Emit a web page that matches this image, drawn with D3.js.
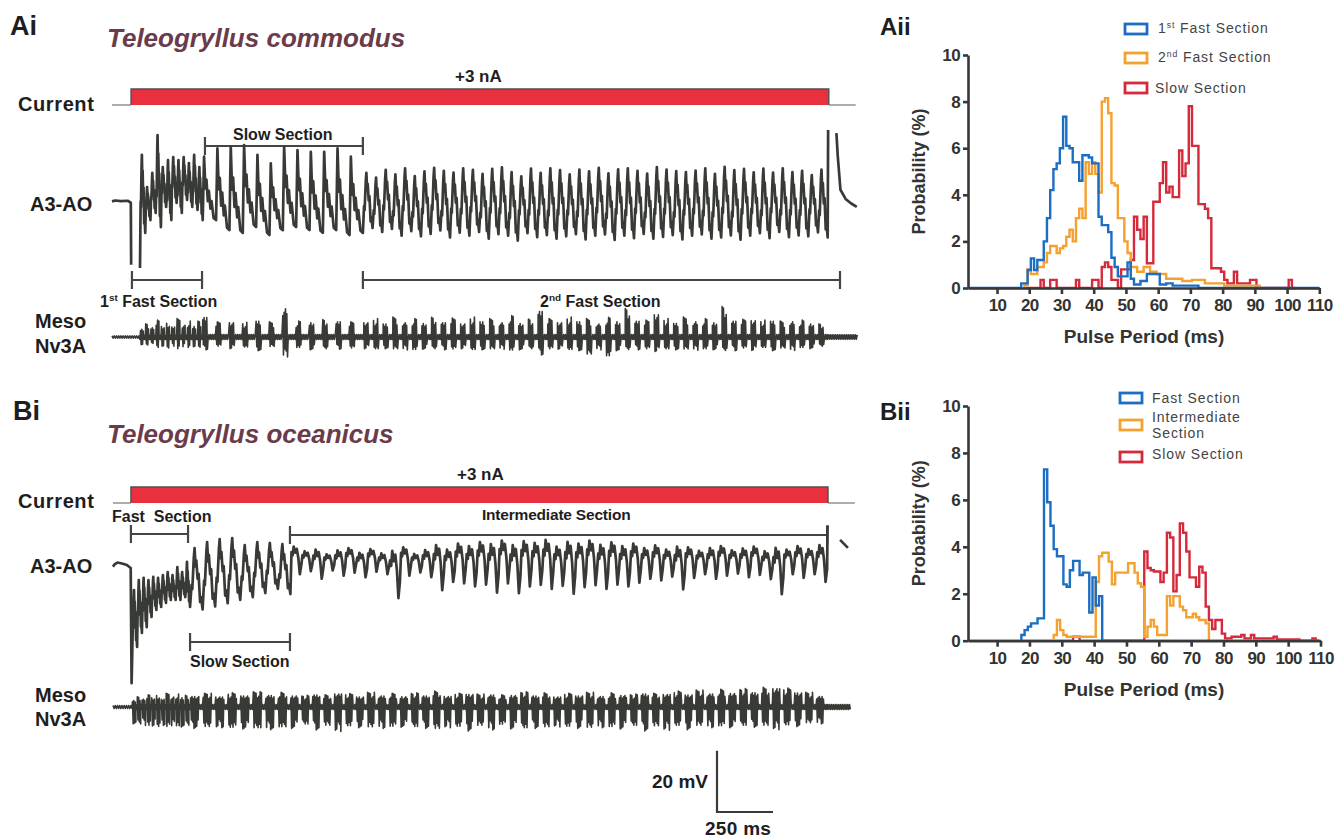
<!DOCTYPE html>
<html><head><meta charset="utf-8">
<script src="https://cdn.jsdelivr.net/npm/d3@7"></script>
<style>
body{margin:0;background:#fff;}
svg text{font-family:"Liberation Sans",Arial,Helvetica,sans-serif;}
</style></head><body>
<svg id="chart" width="1343" height="840"></svg>
<script>
// ================= DATA =================
// --- Histograms (probability %, 1 ms bins, value for bin centred on start+i) ---
const aiiFast1Start = 18;
const aiiFast1 = [0.2,0.2,0.77,1.27,0.77,1.2,1.2,2.0,3.0,4.2,5.1,5.35,6.0,7.35,6.1,6.0,5.4,5.4,4.6,5.7,5.7,5.6,5.35,5.35,3.06,2.7,2.7,2.4,1.3,0.9,0.5,0.5,0.5,1.1,0.4,0.15,0.15,0.3,0.3,0.6,0.6,0.6,0.6,0.15,0.15,0.2,0.2,0.1,0.1,0.1,0.1,0.1,0.1,0.1,0.1];
const aiiFast2Start = 19;
const aiiFast2 = [0.13,0.8,0.6,0.6,0.9,0.9,1.1,1.5,1.8,1.8,1.5,1.7,1.8,2.2,2.5,2.0,3.0,3.4,3.0,5.4,4.9,5.4,4.9,4.1,8.0,8.15,7.5,4.5,4.4,3.0,3.0,2.0,1.5,0.9,0.9,0.7,0.7,0.9,0.9,0.7,0.7,0.6,0.6,0.6,0.4,0.4,0.4,0.4,0.4,0.3,0.3,0.3,0.35,0.35,0.35,0.35,0.2,0.2,0.2,0.2,0.2,0.2,0.1,0.1,0.1,0.1,0.1,0.1,0.1,0.1,0.1,0.1,0.1];
const aiiSlowStart = 19;
const aiiSlow = [0,0,0,0,0,0.35,0,0,0.35,0.35,0,0,0,0,0,0,0.35,0,0,0,0,0.35,0.35,0,0.9,1.1,0.9,0.35,0.35,0,0.8,0.8,0.8,1.2,3.06,2.5,2.1,3.06,1.06,1.06,3.7,3.7,4.5,5.4,4.1,4.35,3.9,3.9,5.9,4.8,5.35,7.8,6.1,6.1,3.6,3.6,3.4,3.0,0.85,0.85,0.85,0.7,0.35,0.2,0.2,0.7,0.2,0.2,0.2,0.2,0.35,0.35,0,0,0,0,0,0,0,0,0,0,0.35,0];
const biiFastStart = 18;
const biiFast = [0.24,0.45,0.6,0.74,0.74,0.95,0.95,7.3,5.9,4.9,3.9,3.6,3.6,2.4,2.3,3.0,3.4,3.4,2.8,2.9,2.9,1.2,2.7,1.5,1.9];
const biiInterStart = 28;
const biiInter = [0.24,0.88,0.45,0.24,0.17,0.17,0.17,0.17,0.17,0.17,0.17,0.17,0.17,2.5,3.6,3.75,3.75,3.37,2.4,2.9,2.9,2.9,2.9,3.3,3.3,2.9,2.45,2.3,0.17,0.6,0.88,0.6,0.24,0.24,0.24,1.9,1.5,1.9,1.9,1.45,1.3,1.0,1.0,1.15,1.0,0.88,0.88,0.74];
const biiSlowStart = 18;
const biiSlow = [0,0,0,0,0,0,0,0,0,0,0,0,0,0,0,0,0.17,0.17,0,0,0,0,0,0,0,0,0,0,0,0,0,0,0,0,0,0,0,0,3.8,3.1,3.0,2.95,2.95,2.5,2.9,4.6,4.4,2.1,2.8,5.0,4.6,3.8,2.7,2.7,2.3,3.15,2.9,1.45,0.88,0.5,0.88,0.88,0.3,0.1,0.1,0.17,0.17,0.17,0.24,0.1,0.1,0.24,0.1,0.1,0.1,0.1,0.1,0.1,0.17,0.05,0.05,0.05,0.05,0.05,0.05,0.05,0,0,0,0,0.1,0];
const xTicks = [10,20,30,40,50,60,70,80,90,100,110];
const yTicks = [0,2,4,6,8,10];

// --- Ai (T. commodus) recordings: time ms, voltage mV ---
const aiCurrentTimes = [0, 85, 3200, 3320];
const biCurrentTimes = [0, 80, 3192, 3312];
const currentAmp = 3;
const aiPreTrace = [[0,0.2],[15,0.5],[40,0.3],[70,0.4],[84,-0.2],[85.5,-20.5],[86,null],[125,-21.6]];
const aiSectionTimes = [125, 405, 1120, 3195];
const aiFast1Peaks = [15.4,4.9,9.5,21.9,11.4,13.7,14.7,13.7,14.7,12.7,15.4,11.4];
const aiFast1Troughs = [-10.1,-5.9,-3.6,-8.2,-1.6,-5.9,-0.3,-3.6,0.7,-1.6,-2.6,-5.9];
const aiSlowPeaks = [14.8,17.5,18.1,18.6,15.4,12.6,18.1,17.0,16.4,16.4,17.5,14.8];
const aiSlowTroughs = [-5.9,-9.2,-10.1,-8.2,-10.8,-9.2,-8.2,-9.2,-10.1,-9.2,-10.8,-10.1];
const aiFast2Peaks = [9.5,8.0,10.5,9.0,11.0,8.5,10.0,11.2,10.2,9.6,11.0,10.5,9.2,10.8,11.3,9.8,8.4,10.9,9.5,11.0,10.4,9.0,10.6,10.0,11.2,9.4,10.7,11.0,10.2,9.3,11.4,10.6,10.1,9.8,10.3,11.0,9.2,11.5,10.4,10.8,9.7,10.9,9.6,11.0,9.8,10.2,8.8,10.6];
const aiFast2Troughs = [-8.5,-9.8,-8.8,-11.0,-9.5,-11.2,-10.4,-9.3,-11.6,-10.0,-11.0,-9.8,-12.0,-10.5,-11.0,-12.6,-10.2,-11.5,-10.8,-12.0,-11.2,-10.5,-12.2,-11.0,-10.6,-12.4,-11.0,-11.8,-10.4,-12.0,-11.4,-10.8,-12.2,-11.0,-10.6,-12.0,-11.6,-10.9,-12.3,-11.0,-10.2,-11.8,-9.8,-11.5,-10.9,-11.2,-9.9,-11.6];
const aiPostTrace = [[3197,23.5],[3198,null],[3234,22.5],[3240,15],[3252,4],[3275,1],[3300,-0.5],[3325,-1.6]];
const aiMesoUp = [3.0,4.5,3.5,5.5,4.0,5.0,3.8,6.0,4.5,5.2,4.0,5.5,
  7.5,5.0,5.5,4.8,6.0,5.0,10.8,5.2,5.5,6.0,5.8,5.0,
  5.5,6.0,5.0,6.5,5.5,6.0,5.2,6.8,5.5,6.2,5.0,6.5,5.8,6.0,5.5,7.0,5.2,6.2,9.8,6.0,5.5,6.5,5.8,6.0,5.0,6.4,5.8,9.8,6.0,5.5,8.5,6.0,5.2,6.5,5.8,6.0,5.5,10.5,6.0,5.8,6.2,5.5,6.0,5.2,5.8,5.5,5.0,4.5];
const aiMesoDown = [2.5,3.5,3.0,4.0,3.2,4.2,3.0,4.5,3.5,4.0,3.2,4.5,
  4.2,3.5,4.0,3.8,4.5,3.6,6.5,4.0,4.2,4.5,4.0,4.2,
  4.0,4.5,3.8,4.5,4.2,4.8,4.0,4.5,4.2,4.6,4.0,4.8,4.2,4.5,4.0,5.0,4.2,4.5,5.9,4.5,4.2,4.8,4.5,6.5,4.2,7.2,4.5,4.8,4.2,4.5,5.0,4.5,4.2,4.6,4.3,4.5,4.2,5.2,4.5,4.2,4.6,4.0,4.5,4.2,4.4,4.0,3.8,3.5];
const aiMesoEnd = 3330;

// --- Bi (T. oceanicus) recordings ---
const biPreTrace = [[0,-0.6],[8,0.3],[20,0.8],[40,0.5],[62,0],[79,-1.0],[83,-38.6]];
const biSectionTimes = [86, 344, 792, 3188];
const biFastPeaks = [-8.2,-4.9,-4.2,-4.9,-3.9,-4.2,-3.3,-2.3,-3.3,-0.7,-2.3,1.0];
const biFastTroughs = [-26.8,-22.2,-20.3,-17.0,-14.7,-13.7,-12.4,-11.4,-11.4,-11.4,-10.5,-13.7];
const biSlowPeaks = [5.5,7.5,8.5,8.8,6.5,7.5,7.2,6.8];
const biSlowTroughs = [-14.5,-13.5,-12.5,-11.4,-10.5,-9.2,-7.8,-9.5];
const biIntPeaks = [6.0,4.5,5.0,3.5,4.8,5.5,4.0,5.2,3.8,4.6,5.8,3.6,4.9,6.5,5.0,7.0,6.2,7.5,6.8,8.0,6.5,7.8,7.2,8.2,6.0,7.6,7.0,8.0,6.6,7.4,6.2,7.0,5.5,6.4,5.0,6.0,5.8,4.6,5.5,6.2,4.8,5.4,6.0,4.5,5.6,5.0,6.2,5.2,6.5];
const biIntTroughs = [-3.0,-2.0,-4.5,-1.8,-3.5,-2.5,-4.0,-2.2,-3.0,-10.8,-3.5,-2.4,-4.0,-8.2,-5.5,-6.0,-7.0,-6.4,-9.0,-6.0,-9.2,-7.0,-6.5,-7.8,-6.8,-9.4,-7.2,-6.6,-7.8,-6.4,-7.0,-5.8,-4.5,-5.0,-3.8,-8.0,-4.2,-3.0,-4.5,-3.5,-2.8,-4.0,-3.2,-4.6,-9.5,-3.0,-4.2,-3.0,-5.5];
const biPostTrace = [[3190,13],[3191,null],[3246,8.2],[3281,5.6]];
const biMesoUp = [2.5,3.5,3.0,4.0,3.5,4.2,3.0,4.5,3.8,4.2,3.5,4.0,
  4.0,4.5,3.8,4.6,4.2,5.0,4.4,4.8,
  4.2,3.8,4.6,4.0,5.0,4.4,3.8,4.8,4.2,4.5,3.9,4.6,4.2,5.2,4.0,4.5,4.8,4.2,4.6,4.0,4.4,5.0,4.2,4.6,3.8,4.5,4.2,4.8,4.0,4.6,4.4,4.2,5.0,4.5,4.8,5.2,4.6,5.5,5.0,5.8,5.2,6.0,5.5,6.4,7.0,6.2,5.4,4.8,4.0];
const biMesoDown = [5.5,6.5,6.0,7.0,6.5,7.5,6.0,7.5,6.8,7.2,6.5,7.0,
  7.0,7.5,6.8,7.8,7.2,8.0,7.4,7.6,
  7.0,6.5,7.5,7.0,8.0,7.2,6.8,7.6,7.0,7.4,6.6,7.5,7.0,8.2,6.8,7.4,7.8,7.0,7.5,6.6,7.2,8.0,7.0,7.6,6.5,7.4,7.0,7.8,6.8,7.5,7.2,7.0,7.8,7.2,7.6,7.0,7.4,7.0,6.8,7.2,6.8,7.0,6.6,7.0,7.4,6.8,6.4,6.0,5.5];
const biMesoEnd = 3295;

// --- section brackets (ms) ---
const aiBracketFast1 = [89, 402];
const aiBracketSlow = [415, 1120];
const aiBracketFast2 = [1120, 3250];
const biBracketFast = [80, 335];
const biBracketSlow = [344, 790];
const biBracketInter = [790, 3188];
const scaleBarMv = 20, scaleBarMs = 250;

// ================= DRAWING =================
const svg = d3.select('#chart');
const INK = '#1e1e1e', TRACE = '#383b35', AX = '#383838';
const BLUE = '#1b6ec2', ORANGE = '#f5a12f', RED = '#d42a3b', BAR = '#e8303f';
const pxMs = 0.224, pxMv = 3.06;

function text(x, y, s, o = {}) {
  const t = svg.append('text').attr('x', x).attr('y', y)
    .attr('font-size', o.size || 16).attr('font-weight', o.weight || 'bold')
    .attr('fill', o.fill || INK).attr('text-anchor', o.anchor || 'start');
  if (o.italic) t.attr('font-style', 'italic');
  if (o.ls) t.attr('letter-spacing', o.ls);
  if (o.rotate) t.attr('transform', `rotate(${o.rotate},${x},${y})`);
  t.style('white-space', 'pre');
  t.text(s);
  return t;
}
function textSup(x, y, a, sup, b, o = {}) {
  const sz = o.size || 16;
  const t = svg.append('text').attr('x', x).attr('y', y)
    .attr('font-size', sz).attr('font-weight', o.weight || 'bold')
    .attr('fill', o.fill || INK).style('white-space','pre');
  if (o.ls) t.attr('letter-spacing', o.ls);
  t.append('tspan').text(a);
  t.append('tspan').attr('dy', -sz * 0.38).attr('font-size', sz * 0.62).text(sup);
  t.append('tspan').attr('dy', sz * 0.38).text(b);
}

// scales
const aiT = d3.scaleLinear().domain([0, 1000]).range([112, 112 + 1000 * pxMs]);
const aiV = d3.scaleLinear().domain([0, 10]).range([202, 202 - 10 * pxMv]);
const aiMV = d3.scaleLinear().domain([0, 10]).range([337, 337 - 10 * pxMv]);
const aiI = d3.scaleLinear().domain([0, 3]).range([105, 89]);
const biT = d3.scaleLinear().domain([0, 1000]).range([113, 113 + 1000 * pxMs]);
const biV = d3.scaleLinear().domain([0, 10]).range([565, 565 - 10 * pxMv]);
const biMV = d3.scaleLinear().domain([0, 10]).range([707, 707 - 10 * pxMv]);
const biI = d3.scaleLinear().domain([0, 3]).range([503, 487]);

// waveform templates (time fraction, level fraction between trough and peak)
const fastShape = [[0.12,0.4],[0.18,0.33],[0.3,0.85],[0.36,1],[0.44,0.7],[0.5,0.8],[0.6,0.5],[0.68,0.58],[0.8,0.12],[0.88,0.2],[1,0]];
const slowShape = [[0.1,1],[0.2,0.5],[0.28,0.64],[0.38,0.3],[0.46,0.46],[0.58,0.18],[0.66,0.3],[0.82,0.03],[1,0]];
const interShape = [[0.1,0.8],[0.2,0.68],[0.3,1],[0.45,0.78],[0.58,0.92],[0.72,0.6],[0.86,0],[1,0.35]];

function buildTrace(pre, sections, post) {
  let pts = pre.slice(); const cycles = [];
  sections.forEach(s => {
    const n = Math.min(s.peaks.length, s.troughs.length);
    const d = (s.t1 - s.t0) / n;
    for (let i = 0; i < n; i++) {
      const c0 = s.t0 + i * d, P = s.peaks[i], T = s.troughs[i];
      cycles.push({ t0: c0, d, burst: s.burst });
      s.shape.forEach(([f, l]) => pts.push([c0 + f * d, T + l * (P - T)]));
    }
  });
  return { pts: pts.concat(post), cycles };
}
function buildMeso(cycles, up, dn, tEnd, quiet, tail) {
  const pts = []; const tmpl = [0.7,1.0,0.85,0.95,0.65,0.9,0.75,0.6,0.85,0.7];
  let k = 0;
  for (let t = 0; t < cycles[0].t0; t += 5, k++) pts.push([t, (k % 2 ? -1 : 1) * quiet]);
  cycles.forEach((c, i) => {
    const b0 = c.t0 + c.burst[0] * c.d, b1 = c.t0 + c.burst[1] * c.d;
    for (let t = c.t0; t < b0; t += 4, k++) pts.push([t, (k % 2 ? -1 : 1) * 0.8]);
    let j = 0;
    for (let t = b0; t < b1; t += 3, j++) {
      const a = tmpl[(j + i * 3) % tmpl.length];
      pts.push([t, j % 2 === 0 ? (up[i] || 4) * a : -(dn[i] || 4) * a]);
    }
    for (let t = b1; t < c.t0 + c.d; t += 4, k++) pts.push([t, (k % 2 ? -1 : 1) * 0.8]);
  });
  const last = cycles[cycles.length - 1];
  for (let t = last.t0 + last.d; t <= tEnd; t += 4, k++) pts.push([t, (k % 2 ? -1 : 1) * tail]);
  return pts;
}
function drawLine(pts, T, V, w) {
  svg.append('path').attr('fill', 'none').attr('stroke', TRACE).attr('stroke-width', w)
    .attr('stroke-linejoin', 'round')
    .attr('d', d3.line().defined(d => d[1] !== null).x(d => T(d[0])).y(d => V(d[1]))(pts));
}
function drawCurrent(times, T, I) {
  const [t0, on, off, end] = times;
  svg.append('line').attr('x1', T(t0)).attr('x2', T(on)).attr('y1', I(0)).attr('y2', I(0)).attr('stroke', '#777').attr('stroke-width', 1.2);
  svg.append('line').attr('x1', T(off)).attr('x2', T(end)).attr('y1', I(0)).attr('y2', I(0)).attr('stroke', '#777').attr('stroke-width', 1.2);
  svg.append('rect').attr('x', T(on)).attr('y', I(currentAmp)).attr('width', T(off) - T(on)).attr('height', I(0) - I(currentAmp)).attr('fill', BAR);
  svg.append('path').attr('fill', 'none').attr('stroke', '#505050').attr('stroke-width', 1.4)
    .attr('d', `M${T(on)},${I(0)}V${I(currentAmp)}H${T(off)}V${I(0)}`);
}
function drawBracket(r, T, y) {
  svg.append('path').attr('fill', 'none').attr('stroke', '#454545').attr('stroke-width', 2.2)
    .attr('d', `M${T(r[0])},${y - 9}V${y + 9}M${T(r[0])},${y}H${T(r[1])}M${T(r[1])},${y - 9}V${y + 9}`);
}

// ---------- Ai ----------
text(10, 35, 'Ai', { size: 27 });
text(107, 47, 'Teleogryllus commodus', { size: 26, italic: true, fill: '#6b3b4c' });
text(18, 111, 'Current', { size: 20, ls: 0.6 });
text(455, 82, '+3 nA', { size: 17 });
drawCurrent(aiCurrentTimes, aiT, aiI);
text(233, 140, 'Slow Section', { size: 16 });
drawBracket(aiBracketSlow, aiT, 146);
text(30, 211, 'A3-AO', { size: 20 });
const aiTrace = buildTrace(aiPreTrace, [
  { t0: aiSectionTimes[0], t1: aiSectionTimes[1], peaks: aiFast1Peaks, troughs: aiFast1Troughs, shape: fastShape, burst: [0.1, 0.65] },
  { t0: aiSectionTimes[1], t1: aiSectionTimes[2], peaks: aiSlowPeaks, troughs: aiSlowTroughs, shape: slowShape, burst: [0.0, 0.4] },
  { t0: aiSectionTimes[2], t1: aiSectionTimes[3], peaks: aiFast2Peaks, troughs: aiFast2Troughs, shape: fastShape, burst: [0.1, 0.65] }
], aiPostTrace);
drawLine(aiTrace.pts, aiT, aiV, 2.7);
drawBracket(aiBracketFast1, aiT, 280);
drawBracket(aiBracketFast2, aiT, 280);
textSup(100, 307, '1', 'st', ' Fast Section', { size: 16 });
textSup(540, 307, '2', 'nd', ' Fast Section', { size: 16 });
text(35, 328, 'Meso', { size: 20 });
text(35, 353, 'Nv3A', { size: 20 });
drawLine(buildMeso(aiTrace.cycles, aiMesoUp, aiMesoDown, aiMesoEnd, 0.35, 0.7), aiT, aiMV, 1.6);

// ---------- Bi ----------
text(13, 420, 'Bi', { size: 27 });
text(107, 443, 'Teleogryllus oceanicus', { size: 26, italic: true, fill: '#6b3b4c' });
text(18, 508, 'Current', { size: 20, ls: 0.6 });
text(457, 480, '+3 nA', { size: 17 });
drawCurrent(biCurrentTimes, biT, biI);
text(112, 522, 'Fast  Section', { size: 16 });
drawBracket(biBracketFast, biT, 534);
text(482, 520, 'Intermediate Section', { size: 15.5, ls: -0.2 });
drawBracket(biBracketInter, biT, 535);
text(30, 573, 'A3-AO', { size: 20 });
const biTrace = buildTrace(biPreTrace, [
  { t0: biSectionTimes[0], t1: biSectionTimes[1], peaks: biFastPeaks, troughs: biFastTroughs, shape: fastShape, burst: [0.05, 0.75] },
  { t0: biSectionTimes[1], t1: biSectionTimes[2], peaks: biSlowPeaks, troughs: biSlowTroughs, shape: fastShape, burst: [0.05, 0.7] },
  { t0: biSectionTimes[2], t1: biSectionTimes[3], peaks: biIntPeaks, troughs: biIntTroughs, shape: interShape, burst: [0.05, 0.72] }
], biPostTrace);
drawLine(biTrace.pts, biT, biV, 2.7);
drawBracket(biBracketSlow, biT, 642);
text(190, 667, 'Slow Section', { size: 16 });
text(35, 702, 'Meso', { size: 20 });
text(35, 726, 'Nv3A', { size: 20 });
drawLine(buildMeso(biTrace.cycles, biMesoUp, biMesoDown, biMesoEnd, 0.5, 0.8), biT, biMV, 1.6);

// scale bar
const sbX = 717, sbY = 812;
svg.append('path').attr('fill', 'none').attr('stroke', '#3a3a3a').attr('stroke-width', 2.2)
  .attr('d', `M${sbX},${sbY - (biV(0) - biV(scaleBarMv))}V${sbY}H${sbX + (biT(scaleBarMs) - biT(0))}`);
text(708, 788, '20 mV', { size: 19, anchor: 'end' });
text(705, 835, '250 ms', { size: 19, ls: 0.3 });

// ---------- histograms ----------
function histogram(cfg) {
  const x = d3.scaleLinear().domain([1, 110]).range(cfg.xr);
  const y = d3.scaleLinear().domain([0, 10]).range(cfg.yr);
  const g = svg.append('g');
  const line = d3.line().x(d => x(d[0])).y(d => y(d[1])).curve(d3.curveStepAfter);
  cfg.series.forEach(s => {
    const pts = [];
    if (s.full) pts.push([1, 0]);
    pts.push([s.start - 0.5, 0]);
    s.vals.forEach((v, i) => pts.push([s.start - 0.5 + i, v]));
    pts.push([s.start - 0.5 + s.vals.length, 0]);
    if (s.full) pts.push([110, 0]);
    g.append('path').attr('d', line(pts)).attr('fill', 'none').attr('stroke', s.color)
      .attr('stroke-width', 2.4).attr('stroke-linejoin', 'miter');
  });
  const xa = g.append('g').attr('transform', `translate(0,${cfg.yr[0]})`)
    .call(d3.axisBottom(x).tickValues(xTicks).tickSize(6).tickSizeOuter(0).tickPadding(5));
  const ya = g.append('g').attr('transform', `translate(${cfg.xr[0]},0)`)
    .call(d3.axisLeft(y).tickValues(yTicks).tickSize(5).tickSizeOuter(0).tickPadding(3));
  [xa, ya].forEach(a => {
    a.selectAll('path,line').attr('stroke', AX).attr('stroke-width', 2.6);
    a.selectAll('text').attr('font-size', 17).attr('font-weight', 'bold').attr('fill', '#333')
      .attr('font-family', '"Liberation Sans",Arial,sans-serif').attr('letter-spacing', -0.6);
  });
  text(cfg.xr[0] - 43, (cfg.yr[0] + cfg.yr[1]) / 2, 'Probability (%)', { size: 18, anchor: 'middle', rotate: -90, fill: '#333' });
  text(1144, cfg.yr[0] + 55, 'Pulse Period (ms)', { size: 19, anchor: 'middle', fill: '#333' });
  cfg.legend.forEach(l => {
    svg.append('rect').attr('x', l.bx).attr('y', l.by).attr('width', 22).attr('height', 10)
      .attr('fill', '#fff').attr('stroke', l.color).attr('stroke-width', 2.8);
    l.lines.forEach((ln, i) => {
      if (ln.sup) textSup(l.tx, l.ty + i * 16, ln.a, ln.sup, ln.b, { size: 14, weight: 'normal', fill: '#444', ls: 0.9 });
      else text(l.tx, l.ty + i * 16, ln.a, { size: 14, weight: 'normal', fill: '#444', ls: 0.9 });
    });
  });
}
text(880, 35, 'Aii', { size: 24 });
histogram({
  xr: [968, 1319.3], yr: [288, 55],
  series: [
    { start: aiiSlowStart, vals: aiiSlow, color: RED },
    { start: aiiFast2Start, vals: aiiFast2, color: ORANGE },
    { start: aiiFast1Start, vals: aiiFast1, color: BLUE, full: true }
  ],
  legend: [
    { bx: 1125, by: 24, color: BLUE, tx: 1158, ty: 33, lines: [{ a: '1', sup: 'st', b: ' Fast Section' }] },
    { bx: 1125, by: 53, color: ORANGE, tx: 1158, ty: 62, lines: [{ a: '2', sup: 'nd', b: ' Fast Section' }] },
    { bx: 1125, by: 83, color: RED, tx: 1155, ty: 93, lines: [{ a: 'Slow Section' }] }
  ]
});
text(880, 420, 'Bii', { size: 24 });
histogram({
  xr: [968, 1320.5], yr: [640.7, 406],
  series: [
    { start: biiSlowStart, vals: biiSlow, color: RED },
    { start: biiInterStart, vals: biiInter, color: ORANGE },
    { start: biiFastStart, vals: biiFast, color: BLUE, full: true }
  ],
  legend: [
    { bx: 1120, by: 393, color: BLUE, tx: 1152, ty: 403, lines: [{ a: 'Fast Section' }] },
    { bx: 1120, by: 420, color: ORANGE, tx: 1152, ty: 422, lines: [{ a: 'Intermediate' }, { a: 'Section' }] },
    { bx: 1120, by: 452, color: RED, tx: 1152, ty: 459, lines: [{ a: 'Slow Section' }] }
  ]
});
</script>
</body></html>
